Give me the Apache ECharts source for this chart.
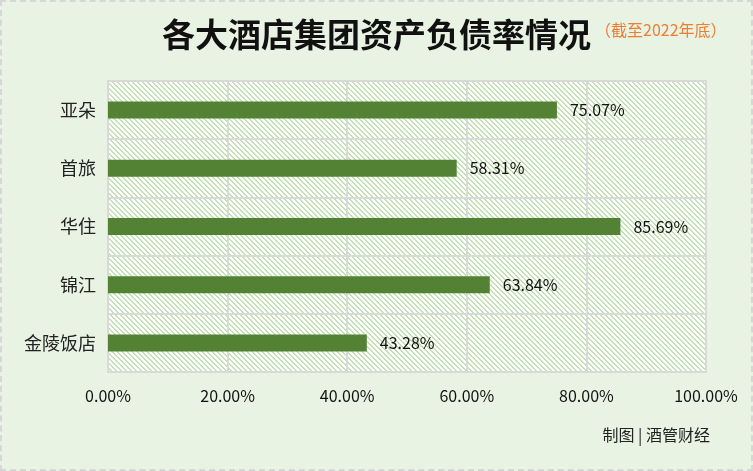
<!DOCTYPE html>
<html><head><meta charset="utf-8">
<script src="https://cdn.jsdelivr.net/npm/echarts@6/dist/echarts.min.js"></script>
<style>
html,body{margin:0;padding:0;}
#wrap{width:753px;height:471px;box-sizing:border-box;border:2px dashed #d6d6d6;background:#e9f3e3;position:relative;}
#c{position:absolute;left:-2px;top:-2px;width:753px;height:471px;}
</style></head>
<body><div id="wrap"><div id="c"></div></div>
<script>
const categories = ['亚朵','首旅','华住','锦江','金陵饭店'];
const values = [75.07, 58.31, 85.69, 63.84, 43.28];
const xTicks = [0,20,40,60,80,100];

// hatch pattern
const pc = document.createElement('canvas');
pc.width = 5; pc.height = 5;
const ctx = pc.getContext('2d');
ctx.fillStyle = '#ffffff'; ctx.fillRect(0,0,5,5);
ctx.fillStyle = '#c3e2b3';
for (let i=0;i<5;i++){ ctx.fillRect(i,i,1,1); ctx.fillRect((i+1)%5,i,1,1); }

const chart = echarts.init(document.getElementById('c'), null, {renderer:'canvas'});
chart.setOption({
  backgroundColor:'transparent',
  title:{
    text:'{m|各大酒店集团资产负债率情况}{s|（截至2022年底）}',
    left:157, top:13,
    textStyle:{rich:{
      m:{fontFamily:'Noto Sans CJK SC',fontSize:33,fontWeight:'bold',color:'#111'},
      s:{fontFamily:'Noto Sans CJK SC',fontSize:16,fontWeight:'normal',color:'#ed7d31',padding:[0,0,10,4]}
    }}
  },
  graphic:[{type:'text',right:43,top:427,style:{text:'制图 | 酒管财经',font:'16px "Noto Sans CJK SC"',fill:'#222'}}],
  grid:{left:108,right:47,top:81,bottom:99,show:true,backgroundColor:{image:pc,repeat:'repeat'},borderColor:'#d9d9d9',borderWidth:2},
  xAxis:{type:'value',min:0,max:100,interval:20,
    axisLabel:{formatter:v=>v.toFixed(2)+'%',fontSize:16,color:'#111',margin:16,fontFamily:'Noto Sans CJK SC'},
    splitLine:{lineStyle:{color:'#d9d9d9',width:2}},axisLine:{show:false},axisTick:{show:false}},
  yAxis:{type:'category',data:categories,inverse:true,
    axisLabel:{fontSize:18,color:'#222',margin:12,fontFamily:'Noto Sans CJK SC'},
    axisLine:{show:false},axisTick:{show:false},
    splitLine:{show:true,lineStyle:{color:'#d9d9d9',width:2}}},
  series:[{type:'bar',data:values,barWidth:17,itemStyle:{color:'#548235'},
    label:{show:true,position:'right',distance:13,formatter:p=>p.value.toFixed(2)+'%',fontSize:16,color:'#111',fontFamily:'Noto Sans CJK SC'}}]
});
</script></body></html>
